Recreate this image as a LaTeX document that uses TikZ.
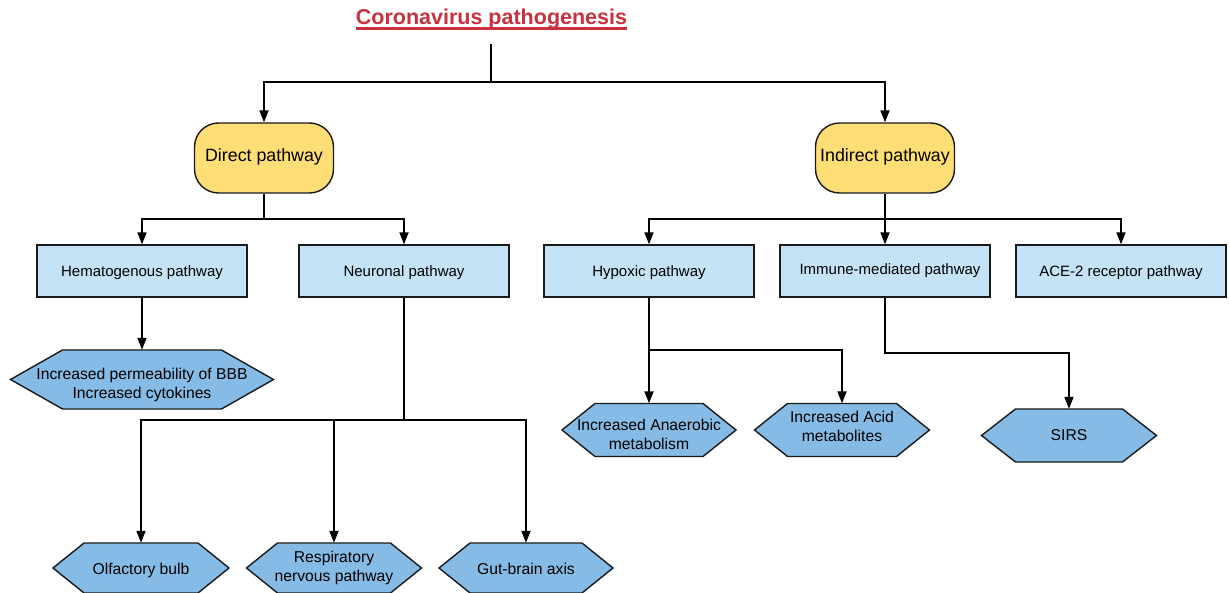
\documentclass[tikz,border=0pt]{standalone}
\usepackage{fontspec}
\setmainfont{Liberation Sans}
\usetikzlibrary{arrows.meta}
\definecolor{titlered}{HTML}{C9313E}
\definecolor{yell}{HTML}{FFDE75}
\definecolor{lblue}{HTML}{C5E3F6}
\definecolor{hblue}{HTML}{85BBE5}
\definecolor{edge}{HTML}{1A1A1A}
\tikzset{
  conn/.style={line width=1.7pt, draw=black},
  arr/.style={conn, -{Triangle[length=12pt,width=9pt]}},
  yellowbox/.style={draw=edge, line width=1.4pt, fill=yell, rounded corners=24pt, minimum width=139pt, minimum height=70pt, font=\fontsize{17.8}{20}\selectfont, inner sep=0pt},
  bluebox/.style={draw=edge, line width=1.4pt, fill=lblue, minimum width=210pt, minimum height=52pt, font=\fontsize{15}{18}\selectfont, inner sep=0pt},
  hextext/.style={draw=none, inner sep=0pt, font=\fontsize{15.7}{18.8}\selectfont},
  hexfill/.style={draw=edge, line width=1.4pt, fill=hblue, line join=miter},
}
% name, cx, cy, w, h, indent, text
\newcommand\hexnode[7]{%
  \draw[hexfill] ({#2-#4/2},#3) -- ({#2-#4/2+#6},{#3-#5/2}) -- ({#2+#4/2-#6},{#3-#5/2}) -- ({#2+#4/2},#3) -- ({#2+#4/2-#6},{#3+#5/2}) -- ({#2-#4/2+#6},{#3+#5/2}) -- cycle;
  \node[hextext, minimum width=#4pt, minimum height=#5pt] (#1) at (#2,#3) {#7};
}
% baseline shift, text
\newcommand\oneline[2]{\raisebox{#1}[0pt][0pt]{#2}}
\newcommand\twoline[3]{\raisebox{#1}[0pt][0pt]{\begin{tabular}[b]{@{}c@{}}#2\\#3\end{tabular}}}
\begin{document}
\begin{tikzpicture}[x=1pt,y=-1pt]
\useasboundingbox (0,0) rectangle (1229,593);
% title
\node[anchor=base, inner sep=0pt, text=titlered, font=\fontsize{21.5}{24}\selectfont\bfseries] (title) at (491.5,25) {Coronavirus pathogenesis};
\draw[titlered, line width=2.2pt] ([yshift=-3.5pt]title.base west) -- ([yshift=-3.5pt]title.base east);
% main boxes
\node[yellowbox] (direct) at (264,158) {\oneline{-3.7pt}{Direct pathway}};
\node[yellowbox] (indirect) at (885,158) {\oneline{-3.7pt}{Indirect pathway}};
\node[bluebox] (hema) at (142,271) {\oneline{-5.5pt}{Hematogenous pathway}};
\node[bluebox] (neur) at (404,271) {\oneline{-5.5pt}{Neuronal pathway}};
\node[bluebox] (hyp) at (649,271) {\oneline{-5.5pt}{Hypoxic pathway}};
\node[bluebox] (imm) at (885,271) {\oneline{-3.3pt}{\hspace{10pt}Immune-mediated pathway}};
\node[bluebox] (ace) at (1121,271) {\oneline{-5.5pt}{ACE-2 receptor pathway}};
% hexagons
\hexnode{bbb}{142}{379.5}{263}{59}{52}{\twoline{-18.8pt}{Increased permeability of BBB}{Increased cytokines}}
\hexnode{anaer}{649}{430}{174}{53}{33}{\twoline{-19.3pt}{Increased Anaerobic}{metabolism}}
\hexnode{acid}{842}{430}{175}{53}{33}{\twoline{-11.7pt}{Increased Acid}{metabolites}}
\hexnode{sirs}{1069}{435.5}{175}{53}{34}{\oneline{-4.5pt}{SIRS}}
\hexnode{olf}{141}{568}{176}{50}{31}{\oneline{-6pt}{Olfactory bulb}}
\hexnode{resp}{334}{568}{175}{50}{31}{\twoline{-13.7pt}{Respiratory}{nervous pathway}}
\hexnode{gut}{526}{568}{174}{50}{31}{\oneline{-6pt}{Gut-brain axis}}
% connectors
\coordinate (t0) at (491,44);
\coordinate (t1) at (491,82);
\draw[conn] (t0) -- (t1);
\draw[arr] (t1) -| (direct.north);
\draw[arr] (t1) -| (indirect.north);
\coordinate (d1) at (264,219);
\draw[conn] (direct.south) -- (d1);
\draw[arr] (d1) -| (hema.north);
\draw[arr] (d1) -| (neur.north);
\coordinate (i0) at (885,219);
\draw[conn] (indirect.south) -- (i0);
\draw[arr] (i0) -| (hyp.north);
\draw[arr] (i0) -- (imm.north);
\draw[arr] (i0) -| (ace.north);
\draw[arr] (hema.south) -- (bbb.north);
\coordinate (n1) at (404,420);
\draw[conn] (neur.south) -- (n1);
\draw[arr] (n1) -| (olf.north);
\draw[arr] (n1) -| (resp.north);
\draw[arr] (n1) -| (gut.north);
\coordinate (h1) at (649,350);
\draw[arr] (hyp.south) -- (anaer.north);
\draw[arr] (h1) -| (acid.north);
\coordinate (m1) at (885,353);
\draw[arr] (imm.south) -- (m1) -| (sirs.north);
\end{tikzpicture}
\end{document}
